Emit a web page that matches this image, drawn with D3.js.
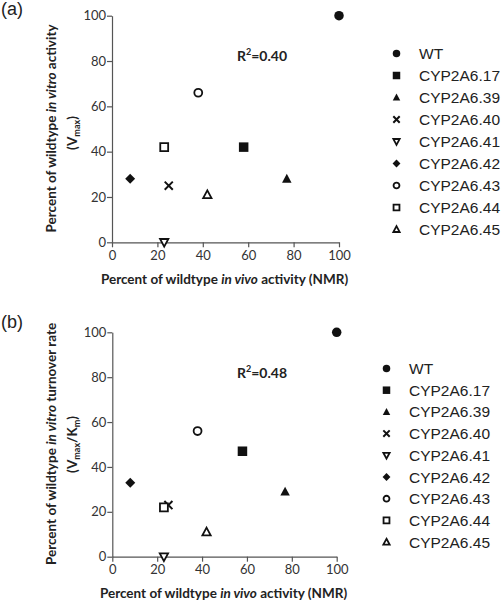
<!DOCTYPE html>
<html><head><meta charset="utf-8">
<script src="https://cdn.jsdelivr.net/npm/d3@7"></script>
<style>body{margin:0;background:#fff}svg{display:block}</style>
</head><body>
<svg id="c" width="501" height="600"></svg>
<script>
const variants = ["WT","CYP2A6.17","CYP2A6.39","CYP2A6.40","CYP2A6.41","CYP2A6.42","CYP2A6.43","CYP2A6.44","CYP2A6.45"];
const symbols  = ["circle","square","triangle","x","triangleDown","diamond","circleOpen","squareOpen","triangleOpen"];
const invivo   = [100, 58, 77, 25, 23, 8, 38, 23, 42];
const vmax     = [100, 42, 28, 25, 0, 28, 66, 42, 21];
const vmaxKm   = [100, 47, 29, 23, 0, 33, 56, 22, 11];
const xTicks   = [0,20,40,60,80,100];
const yTicks   = [0,20,40,60,80,100];
const r2Labels = ["0.40","0.48"];
const panelLabels = ["(a)","(b)"];

const svg = d3.select("#c");
const tickFont = "Lato, 'Open Sans', sans-serif";
const axisColor = "#555";

function marker(g, type, s) {
  const h = s/2;
  const filled = !/Open|x|Down/.test(type);
  const fill = filled ? "#111" : "#fff";
  const stroke = "#111";
  const sw = filled ? 0 : 1.8;
  let p;
  if (type.startsWith("circle")) {
    return g.append("circle").attr("r", filled ? h : h-0.8).attr("fill", fill).attr("stroke", filled?"none":stroke).attr("stroke-width", sw);
  }
  if (type.startsWith("square")) {
    const a = filled ? h : h-0.8;
    p = `M${-a},${-a}H${a}V${a}H${-a}Z`;
  } else if (type === "triangle" || type === "triangleOpen") {
    const a = filled ? h : h-0.6;
    p = `M0,${-a*1.05}L${a},${a*0.8}L${-a},${a*0.8}Z`;
  } else if (type === "triangleDown") {
    const a = h-0.6;
    p = `M0,${a*1.05}L${a},${-a*0.8}L${-a},${-a*0.8}Z`;
  } else if (type === "diamond") {
    const a = h*1.05;
    p = `M0,${-a}L${a},0L0,${a}L${-a},0Z`;
  } else if (type === "x") {
    const a = h*0.85;
    return g.append("path").attr("d", `M${-a},${-a}L${a},${a}M${-a},${a}L${a},${-a}`).attr("stroke", stroke).attr("stroke-width", 2).attr("fill","none");
  }
  return g.append("path").attr("d", p).attr("fill", fill).attr("stroke", filled?"none":stroke).attr("stroke-width", sw);
}

function panel(cfg) {
  const x = d3.scaleLinear().domain([0,100]).range([cfg.x0, cfg.x1]);
  const y = d3.scaleLinear().domain([0,100]).range([cfg.y0, cfg.y1]);
  const g = svg.append("g");

  const ya = g.append("g").attr("transform", `translate(${cfg.x0},0)`)
    .call(d3.axisLeft(y).tickValues(yTicks).tickSize(5).tickPadding(1).tickSizeOuter(0));
  const xa = g.append("g").attr("transform", `translate(0,${cfg.y0})`)
    .call(d3.axisBottom(x).tickValues(xTicks).tickSize(5).tickPadding(3).tickSizeOuter(0));
  [ya, xa].forEach(a => {
    a.select(".domain").attr("stroke", axisColor).attr("stroke-width", 1.2);
    a.selectAll(".tick line").attr("stroke", axisColor).attr("stroke-width", 1.2);
    a.selectAll(".tick text").attr("font-family", tickFont).attr("font-size", 13).attr("fill", "#333");
  });

  // x title
  const xt = g.append("text").attr("x", (cfg.x0+cfg.x1)/2 - 1).attr("y", cfg.xTitleY)
    .attr("text-anchor","middle").attr("font-family", tickFont).attr("font-size", 13.5).attr("font-weight","bold").attr("fill","#222");
  xt.append("tspan").text("Percent of wildtype ");
  xt.append("tspan").attr("font-style","italic").text("in vivo");
  xt.append("tspan").text(" activity (NMR)");

  // y title
  const cy = (cfg.y0+cfg.y1)/2;
  const yt = g.append("text").attr("transform", `translate(${cfg.yTitleX},${cy - 0.5}) rotate(-90)`)
    .attr("text-anchor","middle").attr("font-family", tickFont).attr("font-size", 13.5).attr("font-weight","bold").attr("fill","#222");
  yt.append("tspan").text("Percent of wildtype ");
  yt.append("tspan").attr("font-style","italic").text("in vitro");
  yt.append("tspan").text(cfg.yTitleRest);
  const yt2 = g.append("text").attr("transform", `translate(${cfg.yTitleX+21},${cy + cfg.y2shift}) rotate(-90)`)
    .attr("text-anchor","middle").attr("font-family", tickFont).attr("font-size", 13.5).attr("font-weight","bold").attr("fill","#222");
  cfg.yTitle2(yt2);

  // points
  cfg.values.forEach((v,i) => {
    const mg = g.append("g").attr("transform", `translate(${x(invivo[i])},${y(v)})`);
    marker(mg, symbols[i], 9.5);
  });

  // R2
  const rt = g.append("text").attr("x", cfg.r2x).attr("y", cfg.r2y).attr("font-family", tickFont)
    .attr("font-size", 14).attr("font-weight","bold").attr("fill","#222");
  rt.append("tspan").text("R");
  rt.append("tspan").attr("font-size", 9).attr("dy", -6).text("2");
  rt.append("tspan").attr("dy", 6).text("=" + cfg.r2);

  // legend
  variants.forEach((name,i) => {
    const ly = cfg.legY + i*cfg.legStep;
    const mg = g.append("g").attr("transform", `translate(${cfg.legX},${ly})`);
    marker(mg, symbols[i], 7.5);
    g.append("text").attr("x", cfg.legX + 22.5).attr("y", ly).attr("dy","0.36em")
      .attr("font-family","'Liberation Sans', Arial, sans-serif").attr("font-size", 15.5).attr("fill","#222").text(name);
  });

  // panel label
  svg.append("text").attr("x", 1).attr("y", cfg.labY).attr("font-family","'Liberation Sans', Arial, sans-serif")
    .attr("font-size", 18).attr("fill","#222").text(cfg.label);
}

panel({x0:112, x1:339, y0:242.3, y1:15.7, values: vmax, xTitleY:284, yTitleX:55.5, y2shift:4,
  yTitleRest:" activity",
  yTitle2: t => { t.append("tspan").text("(V"); t.append("tspan").attr("font-size",9).attr("dy",3).text("max"); t.append("tspan").attr("dy",-3).text(")"); },
  r2x:237, r2y:61, r2:r2Labels[0], legX:396.5, legY:53.5, legStep:22, labY:15, label:panelLabels[0]});

panel({x0:112.3, x1:336.7, y0:556.7, y1:332.3, values: vmaxKm, xTitleY:598, yTitleX:55.5, y2shift:0,
  yTitleRest:" turnover rate",
  yTitle2: t => { t.append("tspan").text("(V"); t.append("tspan").attr("font-size",9).attr("dy",3).text("max"); t.append("tspan").attr("dy",-3).text("/K"); t.append("tspan").attr("font-size",9).attr("dy",3).text("m"); t.append("tspan").attr("dy",-3).text(")"); },
  r2x:237, r2y:378, r2:r2Labels[1], legX:386.5, legY:368.5, legStep:21.7, labY:328, label:panelLabels[1]});
</script>
</body></html>
